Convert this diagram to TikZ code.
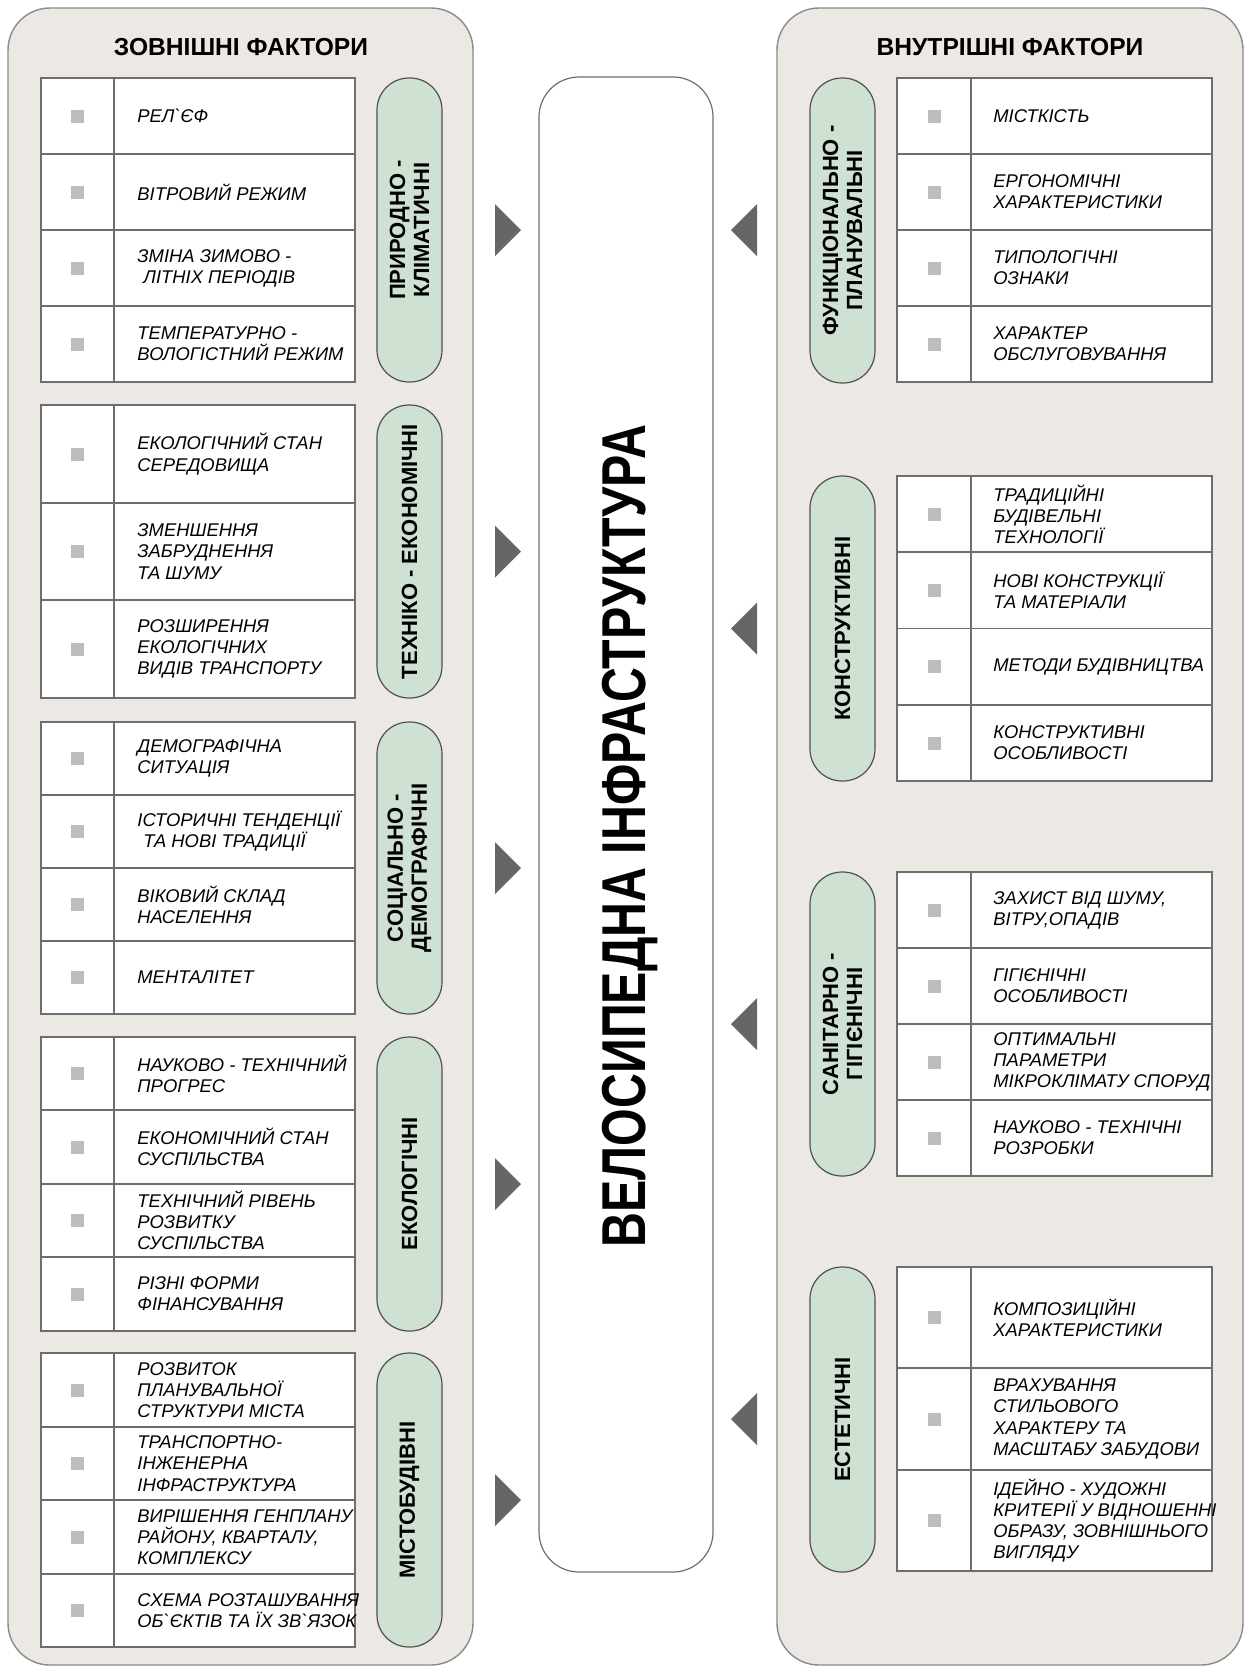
\documentclass[tikz,border=0pt]{standalone}
\usepackage{fontspec}
\setmainfont{Liberation Sans}
\usetikzlibrary{positioning}
\definecolor{panelfill}{HTML}{ECE9E5}
\definecolor{panelline}{HTML}{8A8A8A}
\definecolor{pillfill}{HTML}{CFE1D3}
\definecolor{pillline}{HTML}{505050}
\definecolor{gridline}{HTML}{6E6E6E}
\definecolor{bulletgray}{HTML}{BDBDBD}
\definecolor{wedgegray}{HTML}{666666}
\begin{document}
\begin{tikzpicture}[x=0.5pt, y=-0.5pt,
    panel/.style={draw=panelline, fill=panelfill, line width=0.7pt, rounded corners=21pt},
    hub/.style={rectangle, draw=gridline, fill=white, line width=0.6pt, rounded corners=20pt, inner sep=0pt},
    tablegrid/.style={draw=gridline, fill=white, line width=0.6pt},
    paneltitle/.style={font=\fontsize{12.3}{14}\selectfont\bfseries},
    pill/.style={rectangle, draw=pillline, fill=pillfill, line width=0.6pt, rounded corners=16pt, rotate=90, minimum height=32.5pt, align=center, inner sep=0pt, font=\fontsize{11}{12}\selectfont\bfseries},
    factor/.style={anchor=west, align=left, inner sep=0pt, font=\fontsize{9.2}{10.6}\selectfont\itshape},
    bulletbox/.style={rectangle, fill=bulletgray, minimum size=6.5pt, inner sep=0pt},
    wedge/.style={fill=wedgegray}
]
    \useasboundingbox (0,0) rectangle (1251,1667);

    % панелі та центральний блок
    \draw[panel] (8,8) rectangle (473,1665);
    \draw[panel] (777,8) rectangle (1243,1665);
    \node[paneltitle] (outertitle) at (241,47) {ЗОВНІШНІ ФАКТОРИ};
    \node[paneltitle] (innertitle) at (1010,47) {ВНУТРІШНІ ФАКТОРИ};
    \node[hub, minimum width=87pt, minimum height=747.5pt] (hub) at (626,824.5) {};
    \node[rotate=90, font=\fontsize{31}{31}\selectfont\bfseries] (hubtext) at (630,836) {\scalebox{0.78}[1]{ВЕЛОСИПЕДНА ІНФРАСТРУКТУРА}};

    % зовнішні фактори
    \draw[tablegrid] (41,78) rectangle (355,382) (114,78) -- (114,382);
    \foreach \y in {154,230,306} \draw[tablegrid] (41,\y) -- (355,\y);
    \foreach \y [count=\i] in {116,192,268,344} \node[bulletbox] (zb1\i) at (77.5,\y) {};
    \node[factor] (z11) at (137,116) {РЕЛ\textasciigrave ЄФ};
    \node[factor] (z12) at (137,192) {ВІТРОВИЙ РЕЖИМ};
    \node[factor] (z13) at (137,268) {ЗМІНА ЗИМОВО -\\\hspace{3pt}ЛІТНІХ ПЕРІОДІВ};
    \node[factor] (z14) at (137,344) {ТЕМПЕРАТУРНО -\\ВОЛОГІСТНИЙ РЕЖИМ};
    \node[pill, minimum width=152pt] (zp1) at (409.5,230) {ПРИРОДНО -\\КЛІМАТИЧНІ};
    \fill[wedge] (495,204) -- (521,230) -- (495,256) -- cycle;

    \draw[tablegrid] (41,405) rectangle (355,698) (114,405) -- (114,698);
    \foreach \y in {503,600} \draw[tablegrid] (41,\y) -- (355,\y);
    \foreach \y [count=\i] in {454,551.5,649} \node[bulletbox] (zb2\i) at (77.5,\y) {};
    \node[factor] (z21) at (137,454) {ЕКОЛОГІЧНИЙ СТАН\\СЕРЕДОВИЩА};
    \node[factor] (z22) at (137,551.5) {ЗМЕНШЕННЯ\\ЗАБРУДНЕННЯ\\ТА ШУМУ};
    \node[factor] (z23) at (137,649) {РОЗШИРЕННЯ\\ЕКОЛОГІЧНИХ\\ВИДІВ ТРАНСПОРТУ};
    \node[pill, minimum width=146.5pt] (zp2) at (409.5,551.5) {ТЕХНІКО - ЕКОНОМІЧНІ};
    \fill[wedge] (495,525.5) -- (521,551.5) -- (495,577.5) -- cycle;

    \draw[tablegrid] (41,722) rectangle (355,1014) (114,722) -- (114,1014);
    \foreach \y in {795,868,941} \draw[tablegrid] (41,\y) -- (355,\y);
    \foreach \y [count=\i] in {758.5,831.5,904.5,977.5} \node[bulletbox] (zb3\i) at (77.5,\y) {};
    \node[factor] (z31) at (137,758.5) {ДЕМОГРАФІЧНА\\СИТУАЦІЯ};
    \node[factor] (z32) at (137,831.5) {ІСТОРИЧНІ ТЕНДЕНЦІЇ\\\hspace{3pt}ТА НОВІ ТРАДИЦІЇ};
    \node[factor] (z33) at (137,904.5) {ВІКОВИЙ СКЛАД\\НАСЕЛЕННЯ};
    \node[factor] (z34) at (137,977.5) {МЕНТАЛІТЕТ};
    \node[pill, minimum width=146pt] (zp3) at (409.5,868) {СОЦІАЛЬНО -\\ДЕМОГРАФІЧНІ};
    \fill[wedge] (495,842) -- (521,868) -- (495,894) -- cycle;

    \draw[tablegrid] (41,1037) rectangle (355,1331) (114,1037) -- (114,1331);
    \foreach \y in {1110,1184,1257} \draw[tablegrid] (41,\y) -- (355,\y);
    \foreach \y [count=\i] in {1073.5,1147,1220.5,1294} \node[bulletbox] (zb4\i) at (77.5,\y) {};
    \node[factor] (z41) at (137,1073.5) {НАУКОВО - ТЕХНІЧНИЙ\\ПРОГРЕС};
    \node[factor] (z42) at (137,1147) {ЕКОНОМІЧНИЙ СТАН\\СУСПІЛЬСТВА};
    \node[factor] (z43) at (137,1220.5) {ТЕХНІЧНИЙ РІВЕНЬ\\РОЗВИТКУ\\СУСПІЛЬСТВА};
    \node[factor] (z44) at (137,1294) {РІЗНІ ФОРМИ\\ФІНАНСУВАННЯ};
    \node[pill, minimum width=147pt] (zp4) at (409.5,1184) {ЕКОЛОГІЧНІ};
    \fill[wedge] (495,1158) -- (521,1184) -- (495,1210) -- cycle;

    \draw[tablegrid] (41,1353) rectangle (355,1647) (114,1353) -- (114,1647);
    \foreach \y in {1427,1500,1574} \draw[tablegrid] (41,\y) -- (355,\y);
    \foreach \y [count=\i] in {1390,1463.5,1537,1610.5} \node[bulletbox] (zb5\i) at (77.5,\y) {};
    \node[factor] (z51) at (137,1390) {РОЗВИТОК\\ПЛАНУВАЛЬНОЇ\\СТРУКТУРИ МІСТА};
    \node[factor] (z52) at (137,1463.5) {ТРАНСПОРТНО-\\ІНЖЕНЕРНА\\ІНФРАСТРУКТУРА};
    \node[factor] (z53) at (137,1537) {ВИРІШЕННЯ ГЕНПЛАНУ\\РАЙОНУ, КВАРТАЛУ,\\КОМПЛЕКСУ};
    \node[factor] (z54) at (137,1610.5) {СХЕМА РОЗТАШУВАННЯ\\ОБ\textasciigrave ЄКТІВ ТА ЇХ ЗВ\textasciigrave ЯЗОК};
    \node[pill, minimum width=147pt] (zp5) at (409.5,1500) {МІСТОБУДІВНІ};
    \fill[wedge] (495,1474) -- (521,1500) -- (495,1526) -- cycle;

    % внутрішні фактори
    \draw[tablegrid] (897,78) rectangle (1212,382) (971,78) -- (971,382);
    \foreach \y in {154,230,306} \draw[tablegrid] (897,\y) -- (1212,\y);
    \foreach \y [count=\i] in {116,192,268,344} \node[bulletbox] (vb1\i) at (934,\y) {};
    \node[factor] (v11) at (993,116) {МІСТКІСТЬ};
    \node[factor] (v12) at (993,192) {ЕРГОНОМІЧНІ\\ХАРАКТЕРИСТИКИ};
    \node[factor] (v13) at (993,268) {ТИПОЛОГІЧНІ\\ОЗНАКИ};
    \node[factor] (v14) at (993,344) {ХАРАКТЕР\\ОБСЛУГОВУВАННЯ};
    \node[pill, minimum width=152.5pt] (vp1) at (842.5,230.5) {ФУНКЦІОНАЛЬНО -\\ПЛАНУВАЛЬНІ};
    \fill[wedge] (757,204) -- (731,230) -- (757,256) -- cycle;

    \draw[tablegrid] (897,476) rectangle (1212,781) (971,476) -- (971,781);
    \foreach \y in {552,628.5,705} \draw[tablegrid] (897,\y) -- (1212,\y);
    \foreach \y [count=\i] in {514,590.25,666.75,743} \node[bulletbox] (vb2\i) at (934,\y) {};
    \node[factor] (v21) at (993,514) {ТРАДИЦІЙНІ\\БУДІВЕЛЬНІ\\ТЕХНОЛОГІЇ};
    \node[factor] (v22) at (993,590.25) {НОВІ КОНСТРУКЦІЇ\\ТА МАТЕРІАЛИ};
    \node[factor] (v23) at (993,666.75) {МЕТОДИ БУДІВНИЦТВА};
    \node[factor] (v24) at (993,743) {КОНСТРУКТИВНІ\\ОСОБЛИВОСТІ};
    \node[pill, minimum width=152.5pt] (vp2) at (842.5,628.5) {КОНСТРУКТИВНІ};
    \fill[wedge] (757,602.5) -- (731,628.5) -- (757,654.5) -- cycle;

    \draw[tablegrid] (897,872) rectangle (1212,1176) (971,872) -- (971,1176);
    \foreach \y in {948,1024,1100} \draw[tablegrid] (897,\y) -- (1212,\y);
    \foreach \y [count=\i] in {910,986,1062,1138} \node[bulletbox] (vb3\i) at (934,\y) {};
    \node[factor] (v31) at (993,910) {ЗАХИСТ ВІД ШУМУ,\\ВІТРУ,ОПАДІВ};
    \node[factor] (v32) at (993,986) {ГІГІЄНІЧНІ\\ОСОБЛИВОСТІ};
    \node[factor] (v33) at (993,1062) {ОПТИМАЛЬНІ\\ПАРАМЕТРИ\\МІКРОКЛІМАТУ СПОРУД};
    \node[factor] (v34) at (993,1138) {НАУКОВО - ТЕХНІЧНІ\\РОЗРОБКИ};
    \node[pill, minimum width=152pt] (vp3) at (842.5,1024) {САНІТАРНО -\\ГІГІЄНІЧНІ};
    \fill[wedge] (757,998) -- (731,1024) -- (757,1050) -- cycle;

    \draw[tablegrid] (897,1267) rectangle (1212,1571) (971,1267) -- (971,1571);
    \foreach \y in {1368,1470} \draw[tablegrid] (897,\y) -- (1212,\y);
    \foreach \y [count=\i] in {1317.5,1419,1520.5} \node[bulletbox] (vb4\i) at (934,\y) {};
    \node[factor] (v41) at (993,1317.5) {КОМПОЗИЦІЙНІ\\ХАРАКТЕРИСТИКИ};
    \node[factor] (v42) at (993,1419) {ВРАХУВАННЯ\\СТИЛЬОВОГО\\ХАРАКТЕРУ ТА\\МАСШТАБУ ЗАБУДОВИ};
    \node[factor] (v43) at (993,1520.5) {ІДЕЙНО - ХУДОЖНІ\\КРИТЕРІЇ У ВІДНОШЕННІ\\ОБРАЗУ, ЗОВНІШНЬОГО\\ВИГЛЯДУ};
    \node[pill, minimum width=152.5pt] (vp4) at (842.5,1419.5) {ЕСТЕТИЧНІ};
    \fill[wedge] (757,1393) -- (731,1419) -- (757,1445) -- cycle;
\end{tikzpicture}
\end{document}
